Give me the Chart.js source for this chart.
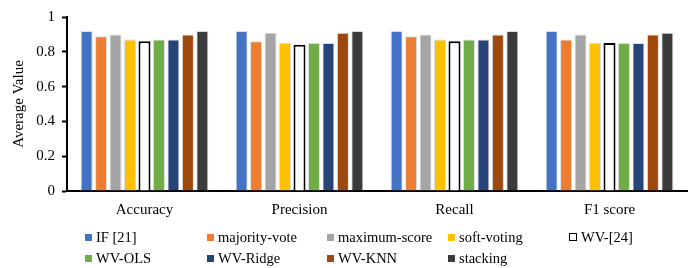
<!DOCTYPE html>
<html>
<head>
<meta charset="utf-8">
<script src="https://cdn.jsdelivr.net/npm/chart.js@4/dist/chart.umd.min.js"></script>
<style>
  html, body { margin: 0; padding: 0; background: #fff; }
  #wrap { position: relative; width: 692px; height: 268px; }
  #legend { position: absolute; left: 0; top: 0; width: 692px; height: 268px; pointer-events: none;
            font-family: "Liberation Serif", "Times New Roman", serif; font-size: 14.5px; color: #000; }
  .item { position: absolute; white-space: nowrap; line-height: 16px; }
  .box { display: inline-block; width: 7px; height: 7px; margin-right: 4px; vertical-align: 1px; box-sizing: border-box; }
</style>
</head>
<body>
<div id="wrap">
  <canvas id="chart" width="692" height="268"></canvas>
  <div id="legend"></div>
</div>
<script>
// metrics on the x axis
const categories = ['Accuracy', 'Precision', 'Recall', 'F1 score'];

// one array per method, in metric order
const seriesNames = ['IF [21]', 'majority-vote', 'maximum-score', 'soft-voting', 'WV-[24]',
                     'WV-OLS', 'WV-Ridge', 'WV-KNN', 'stacking'];
const ifRef       = [0.92, 0.92, 0.92, 0.92];
const majority    = [0.89, 0.86, 0.89, 0.87];
const maxScore    = [0.90, 0.91, 0.90, 0.90];
const softVoting  = [0.87, 0.85, 0.87, 0.85];
const wv24        = [0.86, 0.84, 0.86, 0.85];
const wvOls       = [0.87, 0.85, 0.87, 0.85];
const wvRidge     = [0.87, 0.85, 0.87, 0.85];
const wvKnn       = [0.90, 0.91, 0.90, 0.90];
const stacking    = [0.92, 0.92, 0.92, 0.91];

const yTicks = [0, 0.2, 0.4, 0.6, 0.8, 1];
const yTickLabels = ['0', '0.2', '0.4', '0.6', '0.8', '1'];

const seriesData = [ifRef, majority, maxScore, softVoting, wv24, wvOls, wvRidge, wvKnn, stacking];
const fills = ['#4472C4', '#ED7D31', '#A5A5A5', '#FFC000', '#FFFFFF', '#70AD47', '#264478', '#9E480E', '#3B3B3B'];

const serif = '"Liberation Serif", "Times New Roman", serif';

const datasets = seriesNames.map((name, i) => ({
  label: name,
  data: seriesData[i],
  backgroundColor: fills[i],
  borderColor: i === 4 ? '#000' : '#dcdcdc',
  borderWidth: i === 4 ? 2 : 1,
  barPercentage: 0.83,
  categoryPercentage: 0.84
}));

new Chart(document.getElementById('chart'), {
  type: 'bar',
  data: { labels: categories, datasets },
  options: {
    responsive: false,
    animation: false,
    layout: { padding: { top: 17, right: 5, left: 0, bottom: 0 } },
    plugins: { legend: { display: false }, tooltip: { enabled: false } },
    scales: {
      x: {
        grid: { display: false, drawTicks: false },
        border: { color: '#000', width: 2 },
        ticks: { color: '#000', font: { family: serif, size: 15 }, padding: 10 },
        afterFit: s => { s.height = 77; }
      },
      y: {
        min: 0, max: 1,
        afterBuildTicks: s => { s.ticks = yTicks.map(v => ({ value: v })); },
        grid: { drawOnChartArea: false, drawTicks: true, tickLength: 5, tickColor: '#000', tickWidth: 2 },
        border: { color: '#000', width: 2 },
        ticks: { color: '#000', font: { family: serif, size: 15 }, padding: 7,
                 callback: (v, i) => yTickLabels[i] },
        title: { display: true, text: 'Average Value', color: '#000', font: { family: serif, size: 15 },
                 padding: { top: 10, bottom: 0 } },
        afterFit: s => { s.width = 67; }
      }
    }
  }
});

// legend laid out in five columns, two rows, like the original figure
const legendCols = [85, 207, 327, 448, 569];
const legendRows = [229, 250];
const legend = document.getElementById('legend');
seriesNames.forEach((name, i) => {
  const el = document.createElement('div');
  el.className = 'item';
  el.style.left = legendCols[i % 5] + 'px';
  el.style.top = legendRows[Math.floor(i / 5)] + 'px';
  const box = document.createElement('span');
  box.className = 'box';
  box.style.background = fills[i];
  if (i === 4) { box.style.border = '1.5px solid #000'; box.style.width = '8px'; box.style.height = '8px'; }
  el.appendChild(box);
  el.appendChild(document.createTextNode(name));
  legend.appendChild(el);
});
</script>
</body>
</html>
